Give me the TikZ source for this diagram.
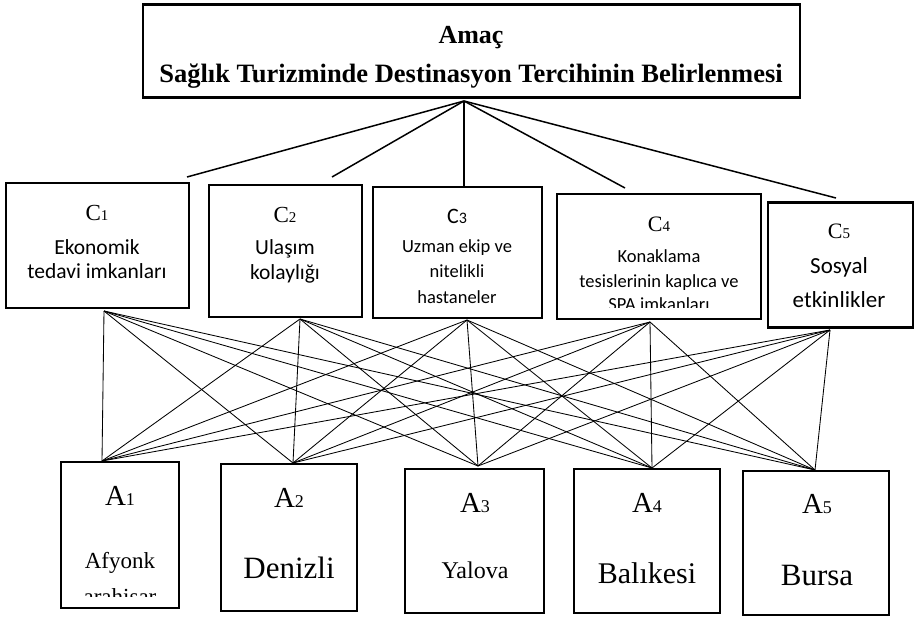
\documentclass[tikz,border=0pt]{standalone}
\usepackage{fontspec}
\setmainfont{Liberation Serif}
\newfontfamily\sansf{Carlito}
% small index digit set on the baseline after a letter
\newcommand\lblsub[2]{{\fontsize{#1}{#1}\selectfont #2}}
\newcommand\fs[1]{\fontsize{#1}{#1}\selectfont}
\begin{document}
\begin{tikzpicture}[x=1pt,y=-1pt,
  frame/.style={draw=black, line width=2.2pt, inner sep=0pt},
  goalframe/.style={draw=black, line width=2.6pt, inner sep=0pt},
  toplink/.style={line width=1.5pt},
  link/.style={line width=0.85pt},
  txt/.style={anchor=base, inner sep=0pt},
]
\useasboundingbox (0,0) rectangle (915,618);

% ---- goal box ----
\node (goal) [goalframe, minimum width=657pt, minimum height=93pt] at (471.5,51) {};
\node (goalA) [txt] at (471,44) {\fs{26}\bfseries Amaç};
\node (goalB) [txt] at (471,82) {\fs{26.5}\bfseries Sağlık Turizminde Destinasyon Tercihinin Belirlenmesi};

% ---- criteria boxes ----
\node (c1) [frame, minimum width=183pt, minimum height=125pt] at (97.5,245.5) {};
\node (c2) [frame, minimum width=153pt, minimum height=132pt] at (285.5,251) {};
\node (c3) [frame, minimum width=169pt, minimum height=131pt] at (457.5,252.5) {};
\node (c4) [frame, minimum width=204pt, minimum height=125pt] at (659,256.5) {};
\node (c5) [frame, minimum width=145pt, minimum height=125pt] at (840.5,265) {};

\node (c1l) [txt] at (97,220) {\fs{23}C\lblsub{15}{1}};
\node (c1a) [txt] at (97,254) {\sansf\fs{21.5}Ekonomik};
\node (c1b) [txt] at (97,278) {\sansf\fs{21.5}tedavi imkanları};

\node (c2l) [txt] at (285,222) {\fs{23}C\lblsub{15}{2}};
\node (c2a) [txt] at (285,254) {\sansf\fs{21.5}Ulaşım};
\node (c2b) [txt] at (285,279) {\sansf\fs{21.5}kolaylığı};

\node (c3l) [txt] at (457,223) {\sansf\fs{22}C\lblsub{16}{3}};
\node (c3a) [txt] at (457,252) {\sansf\fs{18.5}Uzman ekip ve};
\node (c3b) [txt] at (457,277) {\sansf\fs{18.5}nitelikli};
\node (c3c) [txt] at (457,303) {\sansf\fs{18.5}hastaneler};

\node (c4l) [txt] at (659,231) {\fs{22}C\lblsub{15}{4}};
\node (c4a) [txt] at (659,262) {\sansf\fs{18.5}Konaklama};
\node (c4b) [txt] at (659,287) {\sansf\fs{18.5}tesislerinin kaplıca ve};
\begin{scope}
  \clip (557,293) rectangle (761,307);
  \node (c4c) [txt] at (659,310) {\sansf\fs{18.5}SPA imkanları};
\end{scope}

\node (c5l) [txt] at (839,238) {\fs{22}C\lblsub{15}{5}};
\node (c5a) [txt] at (839,273) {\sansf\fs{23}Sosyal};
\node (c5b) [txt] at (839,307) {\sansf\fs{23}etkinlikler};

% ---- alternative boxes ----
\node (a1) [frame, minimum width=118pt, minimum height=146pt] at (120,535) {};
\node (a2) [frame, minimum width=136pt, minimum height=147pt] at (289,537.5) {};
\node (a3) [frame, minimum width=139pt, minimum height=144pt] at (474.5,541) {};
\node (a4) [frame, minimum width=146pt, minimum height=144pt] at (647,541) {};
\node (a5) [frame, minimum width=146pt, minimum height=144pt] at (816,543) {};

\node (a1l) [txt] at (120,505) {\fs{29}A\lblsub{18}{1}};
\node (a1a) [txt] at (120,568) {\fs{23}Afyonk};
\begin{scope}
  \clip (61,585) rectangle (179,596);
  \node (a1b) [txt] at (120,604) {\fs{23}arahisar};
\end{scope}

\node (a2l) [txt] at (289,507) {\fs{29}A\lblsub{18}{2}};
\node (a2a) [txt] at (289,578) {\fs{31}Denizli};

\node (a3l) [txt] at (475,512) {\fs{29}A\lblsub{18}{3}};
\node (a3a) [txt] at (475,578) {\fs{24}Yalova};

\node (a4l) [txt] at (647,512) {\fs{29}A\lblsub{18}{4}};
\node (a4a) [txt] at (647,583) {\fs{30}Balıkesi};

\node (a5l) [txt] at (817,513) {\fs{29}A\lblsub{18}{5}};
\node (a5a) [txt] at (817,585) {\fs{31}Bursa};

% ---- connector end points ----
\coordinate (gh) at (464,101);
\coordinate (ct1) at (187,177);
\coordinate (ct2) at (332,177);
\coordinate (ct3) at (464,186);
\coordinate (ct4) at (625,188);
\coordinate (ct5) at (836,198);

\coordinate (ch1) at (104,311);
\coordinate (ch2) at (300,319);
\coordinate (ch3) at (467,320);
\coordinate (ch4) at (650,322);
\coordinate (ch5) at (830,330);

\coordinate (ah1) at (102,461);
\coordinate (ah2) at (293,463);
\coordinate (ah3) at (478,466);
\coordinate (ah4) at (652,468);
\coordinate (ah5) at (815,470);

% goal to criteria
\foreach \c in {1,...,5} \draw[toplink] (gh) -- (ct\c);

% every criterion to every alternative
\foreach \c in {1,...,5}
  \foreach \a in {1,...,5}
    \draw[link] (ch\c) -- (ah\a);
\end{tikzpicture}
\end{document}
